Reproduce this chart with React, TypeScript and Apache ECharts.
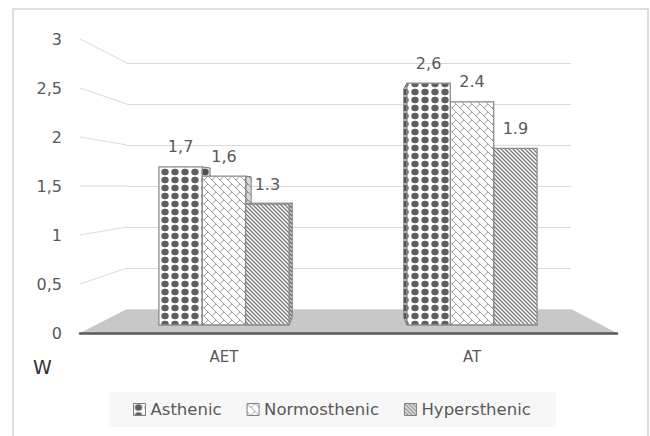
import React, { useEffect, useRef } from 'react';
import * as echarts from 'echarts';

// ---- data ----
const categories = ['AET', 'AT'];
const seriesNames = ['Asthenic', 'Normosthenic', 'Hypersthenic'];
const asthenic = [1.7, 2.6];
const normosthenic = [1.6, 2.4];
const hypersthenic = [1.3, 1.9];
const asthenicLabels = ['1,7', '2,6'];
const normosthenicLabels = ['1,6', '2.4'];
const hypersthenicLabels = ['1.3', '1.9'];
const yTicks = [0, 0.5, 1, 1.5, 2, 2.5, 3];
const axisName = 'W';

// ---- style helpers ----
const FONT = '"DejaVu Sans", sans-serif';
const K = 0.946; // depth ratio of bar back face
const EYE = 1.5; // eye level (value)
const BAR_FRAC = 0.175;

const svgUrl = (w: number, h: number, body: string) =>
  'data:image/svg+xml;charset=utf-8,' +
  encodeURIComponent(
    `<svg xmlns="http://www.w3.org/2000/svg" width="${w}" height="${h}" viewBox="0 0 ${w} ${h}">${body}</svg>`
  );

function dotsPattern() {
  const body = `<rect width="10" height="8" fill="#ffffff"/><ellipse cx="5" cy="4" rx="3.7" ry="3.2" fill="#5f5f5f"/>`;
  return { image: svgUrl(10, 8, body), repeat: 'repeat', imageWidth: 10, imageHeight: 8 };
}
function brickPattern() {
  let d = '';
  for (let k = -3; k <= 3; k++) {
    d += `M-20 ${-20 + 8 * k} L36 ${36 + 8 * k} `;
    for (let m = -4; m <= 5; m++) {
      const a = 8 * m;
      d += `M${a} ${a + 8 * k} L${a - 4} ${a + 8 * k + 4} `;
    }
  }
  const body = `<rect width="16" height="16" fill="#ffffff"/><path d="${d}" stroke="#a0a0a0" stroke-width="1" fill="none"/>`;
  return { image: svgUrl(16, 16, body), repeat: 'repeat', imageWidth: 16, imageHeight: 16 };
}
function hatchPattern() {
  const body = `<rect width="4" height="4" fill="#ffffff"/><path d="M-1 -1 L5 5 M-1 3 L1 5 M3 -1 L5 1" stroke="#7a7a7a" stroke-width="1.3" fill="none"/>`;
  return { image: svgUrl(4, 4, body), repeat: 'repeat', imageWidth: 4, imageHeight: 4 };
}

const patterns = [dotsPattern(), brickPattern(), hatchPattern()];
const values = [asthenic, normosthenic, hypersthenic];
const valueLabels = [asthenicLabels, normosthenicLabels, hypersthenicLabels];

function makeRender(sIdx: number) {
  return (params: any, api: any) => {
    const cat = api.value(0);
    const val = api.value(1);
    const base = api.coord([cat, 0]);
    const top = api.coord([cat, val]);
    const band = api.size([1, 0])[0];
    const bw = band * BAR_FRAC;
    const L = base[0] + (sIdx - 1.5) * bw;
    const R = L + bw;
    const B = base[1];
    const T = top[1];
    const vpX = (api.coord([0, 0])[0] + api.coord([categories.length - 1, 0])[0]) / 2;
    const vpY = api.coord([0, EYE])[1];
    const bk = (x: number, y: number) => [vpX + (x - vpX) * K, vpY + (y - vpY) * K];
    const leftOfVp = (L + R) / 2 < vpX;
    const order = leftOfVp ? sIdx : 2 - sIdx;
    const sx = leftOfVp ? R : L;
    const sidePts = [[sx, T], bk(sx, T), bk(sx, B), [sx, B]];
    const pat = patterns[sIdx];
    const children: any[] = [
      {
        type: 'polygon',
        z2: order * 10,
        shape: { points: sidePts },
        style: { fill: pat, stroke: '#8a8a8a', lineWidth: 1 },
      },
      {
        type: 'polygon',
        z2: order * 10 + 1,
        shape: { points: sidePts },
        style: { fill: 'rgba(0,0,0,0.15)' },
      },
    ];
    if (T > vpY) {
      children.push({
        type: 'polygon',
        z2: order * 10 + 2,
        shape: { points: [[L, T], [R, T], bk(R, T), bk(L, T)] },
        style: { fill: pat, stroke: '#8a8a8a', lineWidth: 1 },
      });
    }
    children.push({
      type: 'rect',
      z2: order * 10 + 3,
      shape: { x: L, y: T, width: bw, height: B - T },
      style: { fill: pat, stroke: '#8a8a8a', lineWidth: 1.3 },
    });
    children.push({
      type: 'text',
      z2: 100,
      style: {
        text: valueLabels[sIdx][params.dataIndex],
        x: (L + R) / 2,
        y: T - 20,
        align: 'center',
        verticalAlign: 'middle',
        fill: '#595959',
        fontSize: 16,
        fontFamily: FONT,
      },
    });
    return { type: 'group', children };
  };
}

export default function App() {
  const ref = useRef<HTMLDivElement>(null);
  useEffect(() => {
    const chart = echarts.init(ref.current!, null, { renderer: 'svg' });
    const option: any = {
      animation: false,
      backgroundColor: '#ffffff',
      title: {
        text: axisName,
        left: 28,
        top: 352,
        textStyle: { fontSize: 19, fontWeight: 'normal', color: '#333333', fontFamily: FONT },
      },
      legend: {
        left: 109,
        top: 392,
        padding: [9, 25, 9, 24],
        backgroundColor: '#f7f7f7',
        itemWidth: 12,
        itemHeight: 12,
        itemGap: 25,
        textStyle: { fontSize: 16.5, color: '#595959', fontFamily: FONT },
        data: seriesNames.map((n, i) => ({
          name: n,
          icon: 'rect',
          itemStyle: { color: patterns[i], borderColor: '#7f7f7f', borderWidth: 1 },
        })),
      },
      grid: [
        { left: 100, right: 54, top: 46, bottom: 111 },
        { left: 80, right: 33, top: 39, bottom: 103 },
        { left: 127, right: 79, top: 63, bottom: 127 },
      ],
      xAxis: [
        {
          gridIndex: 0,
          type: 'category',
          data: categories,
          axisLine: { show: false },
          axisTick: { show: false },
          axisLabel: { margin: 24, fontSize: 15, color: '#595959', fontFamily: FONT },
        },
        {
          gridIndex: 1,
          type: 'value',
          min: 0,
          max: 1,
          axisLabel: { show: false },
          axisTick: { show: false },
          splitLine: { show: false },
          axisLine: { show: true, lineStyle: { color: '#595959', width: 2.5 } },
        },
        { gridIndex: 2, type: 'value', min: 0, max: 1, show: false },
      ],
      yAxis: [
        { gridIndex: 0, type: 'value', min: 0, max: 3, show: false },
        {
          gridIndex: 1,
          type: 'value',
          min: 0,
          max: 3,
          interval: 0.5,
          axisLine: { show: false },
          axisTick: { show: false },
          splitLine: { show: false },
          axisLabel: {
            margin: 18,
            fontSize: 16,
            color: '#595959',
            fontFamily: FONT,
            formatter: (v: number) => String(v).replace('.', ','),
          },
        },
        {
          gridIndex: 2,
          type: 'value',
          min: 0,
          max: 3,
          interval: 0.5,
          axisLine: { show: false },
          axisTick: { show: false },
          axisLabel: { show: false },
          splitLine: { show: true, lineStyle: { color: '#d9d9d9', width: 1 } },
        },
      ],
      series: seriesNames.map((name, i) => ({
        name,
        type: 'custom',
        xAxisIndex: 0,
        yAxisIndex: 0,
        itemStyle: { color: patterns[i] },
        encode: { x: 0, y: 1 },
        renderItem: makeRender(i),
        data: values[i].map((v, j) => [j, v]),
      })),
    };
    chart.setOption(option);

    const front = (x: number, v: number) => chart.convertToPixel({ xAxisIndex: 1, yAxisIndex: 1 } as any, [x, v]) as number[];
    const back = (x: number, v: number) => chart.convertToPixel({ xAxisIndex: 2, yAxisIndex: 2 } as any, [x, v]) as number[];
    const graphics: any[] = [
      {
        type: 'rect',
        z: -2,
        silent: true,
        shape: { x: 13, y: 9, width: 635, height: 440 },
        style: { fill: 'none', stroke: '#d4d4d4', lineWidth: 1.5 },
      },
      {
        type: 'polygon',
        z: -1,
        silent: true,
        shape: { points: [front(0, 0), back(0, 0), back(1, 0), front(1, 0)] },
        style: { fill: '#c8c8c8' },
      },
    ];
    yTicks
      .filter((v) => v > 0)
      .forEach((v) => {
        const f = front(0, v);
        const b = back(0, v);
        graphics.push({
          type: 'line',
          z: -1,
          silent: true,
          shape: { x1: f[0], y1: f[1], x2: b[0], y2: b[1] },
          style: { stroke: '#d9d9d9', lineWidth: 1 },
        });
      });
    chart.setOption({ graphic: graphics });
    return () => chart.dispose();
  }, []);
  return <div ref={ref} style={{ position: 'fixed', left: 0, top: 0, width: 650, height: 436 }} />;
}
